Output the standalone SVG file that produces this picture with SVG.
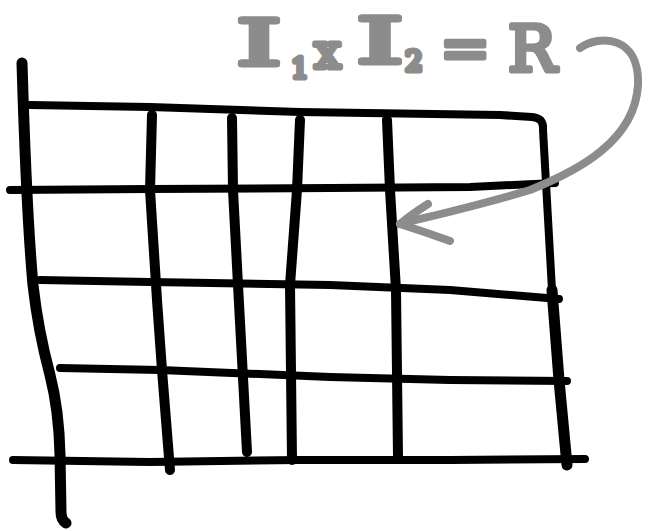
<svg xmlns="http://www.w3.org/2000/svg" width="652" height="531" viewBox="0 0 652 531">
<style>
.ink{fill:none;stroke:#000;stroke-linecap:round;stroke-linejoin:round}
.h{stroke-width:8}
.v{stroke-width:10}
.gray{fill:none;stroke:#8c8c8c;stroke-width:8;stroke-linecap:round;stroke-linejoin:round}
.lbl{fill:#8c8c8c;stroke:#8c8c8c;stroke-width:5;stroke-linejoin:round;stroke-linecap:round;font-family:"DejaVu Serif","Liberation Serif",serif}
</style>
<rect width="652" height="531" fill="#fff"/>
<g id="grid">
  <path class="ink v" d="M22 63 C24 130 28 230 33 285 Q38 330 50 375 Q59 410 60 455 L61 512 Q61 520 66 523" style="stroke-width:11"/>
  <path class="ink h" d="M30 105 L150 107 L300 112 L500 115 L532 117 Q544 118 543 130 L546 183 L552 290 L559 380 L567 465"/>
  <path class="ink" style="stroke-width:11" d="M552 290 L559 380 L567 465"/>
  <path class="ink h" d="M10 190 L150 189 L330 188 L470 187 L555 183"/>
  <path class="ink h" d="M40 280 L150 282 L330 285 L450 290 L559 299"/>
  <path class="ink h" d="M60 368 L160 370 L330 377 L450 380 L567 381"/>
  <path class="ink h" d="M13 460 L150 462 L300 460 L450 460 L585 459"/>
  <path class="ink v" d="M152 115 L150 190 L157 300 L162 370 L170 470"/>
  <path class="ink v" d="M232 118 L233 190 L238 285 L247 452"/>
  <path class="ink v" d="M300 120 L297 190 L290 285 L292 460"/>
  <path class="ink v" d="M387 120 L390 190 L396 290 L398 457"/>
</g>
<g id="label">
  <text class="lbl" font-size="64"><tspan x="236" y="65" textLength="46" lengthAdjust="spacingAndGlyphs">I</tspan><tspan x="291" y="78" font-size="28">1</tspan><tspan x="314" y="68" font-size="48">x</tspan><tspan x="356" y="63" textLength="48" lengthAdjust="spacingAndGlyphs">I</tspan><tspan x="405" y="71" font-size="28">2</tspan><tspan x="440" y="68" font-size="60">=</tspan><tspan x="508" y="71">R</tspan></text>
</g>
<g id="connectors">
  <path class="gray" d="M580 48 C600 34 640 36 638 85 C635 140 580 170 530 190 C480 205 440 214 400 224"/>
  <path class="gray" d="M428 204 Q412 214 400 224 Q425 232 450 241"/>
</g>
</svg>
